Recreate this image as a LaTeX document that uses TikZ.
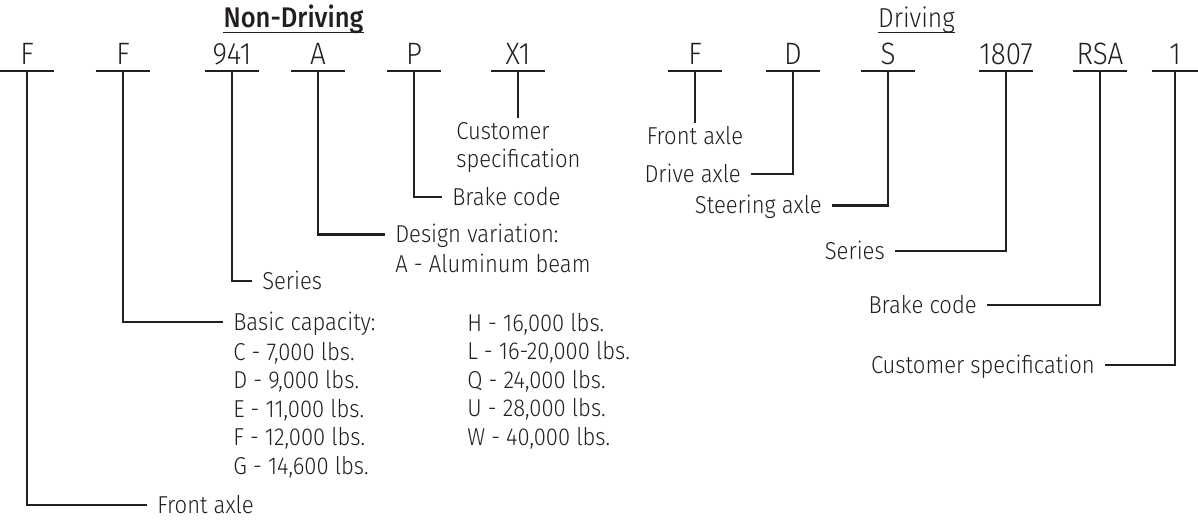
\documentclass[tikz,border=0pt]{standalone}
\usepackage{fontspec}
\setmainfont{Fira Sans}[FakeStretch=0.9, UprightFont=* Light, BoldFont=* Medium]
\usepackage{tikz}

\definecolor{ink}{RGB}{35,31,32}

\tikzset{
    code/.style={anchor=south, minimum width=1.35cm, inner xsep=0pt, inner ysep=0.15cm,
        text depth=0pt, font=\fontsize{22}{25}\selectfont},
    note/.style={inner xsep=0.25cm, inner ysep=0.1cm, text height=12pt, text depth=0pt,
        font=\fontsize{17.4}{20}\selectfont},
    head/.style={anchor=base, inner xsep=0pt, inner ysep=0.125cm, text depth=0pt,
        font=\fontsize{19.5}{22}\selectfont},
    headbold/.style={head, font=\fontsize{20.2}{22}\selectfont\bfseries},
    bar/.style={line width=1.9pt},
    lead/.style={line width=1.9pt},
    uline/.style={line width=1pt},
}

\begin{document}
\begin{tikzpicture}[x=0.025cm, y=-0.025cm, color=ink]
    \useasboundingbox (0,0) rectangle (1198,521);
    % headings
    \node[headbold] (t1) at (293.5, 27) {Non-Driving};
    \draw[uline] (t1.south west) -- (t1.south east);
    \node[head] (t2) at (916.5, 27) {Driving};
    \draw[uline] (t2.south west) -- (t2.south east);
    % code letters (non-driving)
    \node[code] (c1) at (27, 71) {F};
    \node[code] (c2) at (123, 71) {F};
    \node[code] (c3) at (232, 71) {941};
    \node[code] (c4) at (318, 71) {A};
    \node[code] (c5) at (414, 71) {P};
    \node[code] (c6) at (518, 71) {X1};
    % code letters (driving)
    \node[code] (c7) at (695, 71) {F};
    \node[code] (c8) at (793, 71) {D};
    \node[code] (c9) at (888, 71) {S};
    \node[code] (c10) at (1006, 71) {1807};
    \node[code] (c11) at (1100, 71) {RSA};
    \node[code, minimum width=1.15cm] (c12) at (1175, 71) {1};
    \foreach \c in {c1,c2,c3,c4,c5,c6,c7,c8,c9,c10,c11,c12}
        \draw[bar] (\c.south west) -- (\c.south east);
    % non-driving labels
    \node[note, anchor=west] (l1) at (147, 505) {Front axle};
    \node[note, anchor=west] (l2) at (223, 322) {Basic capacity:};
    \foreach \txt [count=\i] in {{C - 7,000 lbs.}, {D - 9,000 lbs.}, {E - 11,000 lbs.},
        {F - 12,000 lbs.}, {G - 14,600 lbs.}}
        \node[note, anchor=west] (capa\i) at (223, {323.5+28.5*\i}) {\txt};
    \foreach \txt [count=\i] in {{H - 16,000 lbs.}, {L - 16-20,000 lbs.}, {Q - 24,000 lbs.},
        {U - 28,000 lbs.}, {W - 40,000 lbs.}}
        \node[note, anchor=west] (capb\i) at (457, {294.5+28.5*\i}) {\txt};
    \node[note, anchor=west] (l3) at (252, 281) {Series};
    \node[note, anchor=west] (l4) at (385, 234.5) {Design variation:};
    \node[note, anchor=west] (l4b) at (385, 264) {A - Aluminum beam};
    \node[note, anchor=west] (l5) at (442, 197) {Brake code};
    \node[note, anchor=west] (l6) at (446, 131) {Customer};
    \node[note, anchor=west] (l6b) at (446, 159) {specification};
    % driving labels
    \node[note] (l7) at (695, 136) {Front axle};
    \node[note, anchor=east] (l8) at (751, 174) {Drive axle};
    \node[note, anchor=east] (l9) at (832, 205.5) {Steering axle};
    \node[note, anchor=east] (l10) at (895, 251) {Series};
    \node[note, anchor=east] (l11) at (987, 305) {Brake code};
    \node[note, anchor=east] (l12) at (1105, 365) {Customer specification};
    % leaders
    \draw[lead] (c1.south) |- (l1.west);
    \draw[lead] (c2.south) |- (l2.west);
    \draw[lead] (c3.south) |- (l3.west);
    \draw[lead] (c4.south) |- (l4.west);
    \draw[lead] (c5.south) |- (l5.west);
    \draw[lead] (c6.south) -- (c6.south |- l6.north);
    \draw[lead] (c7.south) -- (c7.south |- l7.north);
    \draw[lead] (c8.south) |- (l8.east);
    \draw[lead] (c9.south) |- (l9.east);
    \draw[lead] (c10.south) |- (l10.east);
    \draw[lead] (c11.south) |- (l11.east);
    \draw[lead] (c12.south) |- (l12.east);
\end{tikzpicture}
\end{document}
